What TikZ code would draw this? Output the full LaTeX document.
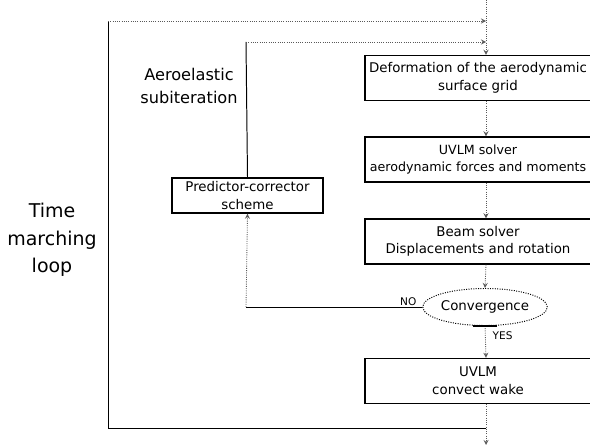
\documentclass[tikz,border=0pt]{standalone}
\usepackage{fontspec}
\setmainfont{DejaVu Sans}
\usetikzlibrary{shapes.geometric}

\tikzset{
  stage/.style={draw, line width=1pt, minimum width=5.65cm, minimum height=1.125cm,
    inner sep=0pt, align=center, font=\fontsize{9.5}{12.5}\selectfont},
  flow/.style={densely dotted, line width=0.6pt, gray!70!black},
  backline/.style={line width=0.7pt},
  tag/.style={font=\fontsize{7.5}{9}\selectfont, inner sep=1pt}
}

\begin{document}
\begin{tikzpicture}[x=0.025cm,y=-0.025cm,>=stealth]
  \useasboundingbox (0,0) rectangle (590,445);
  \clip (0,0) rectangle (590,445);

  % main chain
  \node[stage] (grid) at (478,78) {Deformation of the aerodynamic\\surface grid};
  \node[stage, font=\fontsize{9}{12.5}\selectfont] (uvlm) at (478,159.5) {UVLM solver\\aerodynamic forces and moments};
  \node[stage] (beam) at (478,241.5) {Beam solver\\Displacements and rotation};
  \node[draw, densely dotted, line width=0.7pt, ellipse, minimum width=2.65cm, minimum height=0.925cm,
    inner sep=0pt, font=\fontsize{9.5}{12}\selectfont] (conv) at (485,307) {Convergence};
  \node[stage] (wake) at (478,381) {UVLM\\convect wake};
  \node[draw, line width=1pt, minimum width=3.775cm, minimum height=0.875cm, inner sep=0pt,
    align=center, font=\fontsize{9.5}{13}\selectfont] (pred) at (247.5,195.5) {Predictor-corrector\\scheme};

  \coordinate (top) at (486,0);
  \coordinate (outerJ) at (486,21);
  \coordinate (outerTL) at (108,21);
  \coordinate (innerJ) at (486,42);
  \coordinate (innerTL) at (246,42);
  \coordinate (noTurn) at (246,307);
  \coordinate (outerBJ) at (486,428);
  \coordinate (outerBL) at (108,428);
  \coordinate (bottom) at (486,445);

  \draw[flow,->] (top) -- (grid.north -| top);
  \draw[flow,->] (grid.south -| top) -- (uvlm.north -| top);
  \draw[flow,->] (uvlm.south -| top) -- (beam.north -| top);
  \draw[flow,->] (beam.south -| top) -- (conv.north);
  \draw[flow,->] (conv.south) -- (wake.north -| top);
  \draw[flow,->] (wake.south -| top) -- (bottom);
  \draw[line width=1.4pt] (conv.south) ++(-12,0) -- ++(24,0);

  % subiteration loop
  \draw[backline] (conv.west) -- (noTurn);
  \draw[flow,->] (noTurn) -- (pred.south);
  \draw[backline] (pred.north) -- (innerTL);
  \draw[flow,->] (innerTL) -- (innerJ);

  % time loop
  \draw[backline] (outerBJ) -- (outerBL) -- (outerTL);
  \draw[flow,->] (outerTL) -- (outerJ);

  \node[tag, anchor=south east] (no) at (418,307) {NO};
  \node[tag, anchor=west] (yes) at (491,336) {YES};
  \node[align=center, font=\fontsize{11.5}{17}\selectfont] (sub) at (189,86) {Aeroelastic\\subiteration};
  \node[align=center, font=\fontsize{13.5}{19.5}\selectfont] (time) at (52,240) {Time\\marching\\loop};
\end{tikzpicture}
\end{document}
